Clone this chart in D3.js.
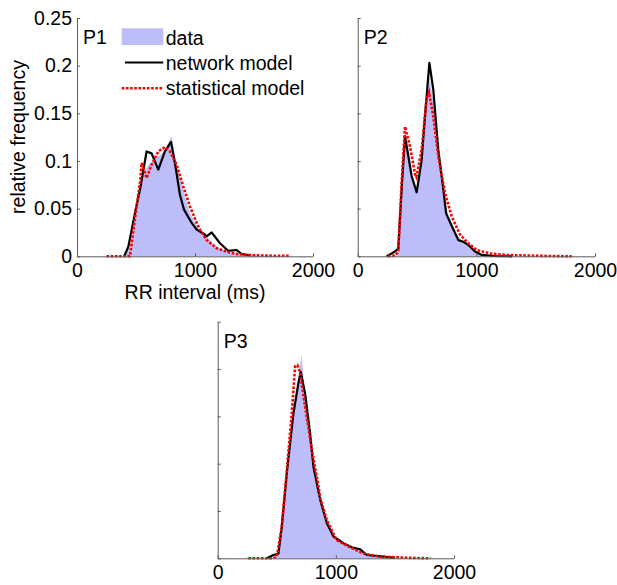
<!DOCTYPE html>
<html>
<head>
<meta charset="utf-8">
<script src="https://cdn.jsdelivr.net/npm/d3@7/dist/d3.min.js"></script>
<style>
  html, body { margin: 0; padding: 0; background: #fff; }
  svg text { font-family: "Liberation Sans", Arial, sans-serif; }
</style>
</head>
<body>
<div id="chart"></div>
<script>
// ── Data: [RR interval (ms), relative frequency] ──
const p1Data = [[400,0],[450,0.01],[480,0.03],[520,0.06],[560,0.085],[600,0.095],[640,0.1],[680,0.104],
  [720,0.108],[760,0.115],[800,0.126],[840,0.1],[880,0.078],[920,0.06],[960,0.045],[1000,0.035],
  [1040,0.028],[1080,0.022],[1120,0.018],[1160,0.013],[1200,0.009],[1250,0.006],[1300,0.004],
  [1400,0.002],[1500,0.001],[1800,0]];
const p1Network = [[400,0],[435,0.01],[497,0.049],[534,0.07],[590,0.11],[632,0.108],[689,0.091],
  [745,0.11],[797,0.12],[839,0.091],[873,0.064],[907,0.049],[972,0.035],[1014,0.028],[1070,0.024],
  [1099,0.021],[1141,0.025],[1212,0.0137],[1283,0.0056],[1353,0.0066],[1395,0.0024],[1466,0.001]];
const p1Statistical = [[250,0],[449,0],[477,0.027],[505,0.052],[534,0.078],[548,0.098],[590,0.082],
  [632,0.096],[689,0.11],[745,0.1145],[788,0.11],[844,0.096],[901,0.073],[958,0.052],[1014,0.035],
  [1042,0.028],[1099,0.017],[1184,0.0084],[1268,0.0048],[1353,0.0024],[1466,0.0013],[1600,0.0007],[1800,0.0005]];

const p2Data = [[340,0.005],[370,0.07],[400,0.12],[430,0.1],[460,0.08],[500,0.07],[540,0.1],[570,0.145],
  [605,0.188],[640,0.16],[680,0.11],[720,0.07],[760,0.045],[800,0.032],[850,0.02],[900,0.014],
  [950,0.009],[1000,0.005],[1050,0.002],[1100,0.001],[1200,0]];
const p2Network = [[244,0],[258,0.001],[314,0.005],[342,0.008],[370,0.07],[399,0.126],[427,0.105],
  [455,0.084],[497,0.067],[539,0.101],[567,0.147],[604,0.203],[637,0.175],[679,0.112],[722,0.07],
  [745,0.045],[792,0.032],[848,0.017],[890,0.0153],[932,0.012],[989,0.005],[1045,0.0014],[1150,0.0003],[1300,0]];
const p2Statistical = [[256,0],[320,0.001],[342,0.005],[370,0.077],[399,0.136],[441,0.115],[483,0.086],
  [495,0.083],[539,0.112],[581,0.165],[601,0.172],[637,0.147],[679,0.105],[736,0.066],[792,0.042],
  [861,0.023],[932,0.0137],[1003,0.0066],[1115,0.003],[1256,0.0014],[1530,0.0005],[1804,0]];

const p3Data = [[458,0],[480,0.002],[520,0.01],[560,0.05],[600,0.1],[640,0.15],[680,0.19],[710,0.215],
  [740,0.17],[780,0.13],[820,0.1],[860,0.073],[900,0.05],[950,0.033],[1000,0.022],[1050,0.017],
  [1100,0.013],[1150,0.01],[1200,0.008],[1250,0.005],[1300,0.003],[1400,0.0015],[1500,0.0005],[1600,0]];
const p3Network = [[415,0],[471,0.0035],[514,0.005],[542,0.033],[585,0.09],[641,0.153],[683,0.185],
  [703,0.197],[740,0.174],[782,0.132],[810,0.097],[867,0.062],[924,0.037],[980,0.023],[1064,0.016],
  [1135,0.0116],[1206,0.0095],[1262,0.0035],[1404,0.0017],[1500,0.0005]];
const p3Statistical = [[259,0],[470,0],[500,0.0017],[542,0.033],[585,0.093],[627,0.153],[655,0.203],
  [675,0.204],[697,0.196],[740,0.16],[796,0.115],[853,0.076],[867,0.064],[924,0.04],[1008,0.019],
  [1122,0.0116],[1234,0.005],[1376,0.0017],[1600,0.0006],[1800,0]];

const xTicks = [0, 1000, 2000];
const yTicks = [0, 0.05, 0.1, 0.15, 0.2, 0.25];
const yTickLabels = ['0', '0.05', '0.1', '0.15', '0.2', '0.25'];
const legendLabels = ['data', 'network model', 'statistical model'];

const FILL  = '#bdbdf9';
const RED   = '#ff0000';
const AXIS  = '#5a5a5a';
const FONT  = 19.5;

const panels = [
  { name: 'P1', data: p1Data, net: p1Network, stat: p1Statistical, left: 77,    right: 313, top: 18,    bottom: 256.3, yLabels: true },
  { name: 'P2', data: p2Data, net: p2Network, stat: p2Statistical, left: 357.7, right: 595, top: 18,    bottom: 256.3, yLabels: false },
  { name: 'P3', data: p3Data, net: p3Network, stat: p3Statistical, left: 217.7, right: 454, top: 321.7, bottom: 558.3, yLabels: false },
];

const svg = d3.select('#chart').append('svg')
  .attr('width', 617).attr('height', 585);

panels.forEach(p => {
  const x = d3.scaleLinear().domain([0, 2000]).range([p.left, p.right]);
  const y = d3.scaleLinear().domain([0, 0.25]).range([p.bottom, p.top]);
  const g = svg.append('g');

  const area = d3.area().x(d => x(d[0])).y0(y(0)).y1(d => y(d[1]));
  const line = d3.line().x(d => x(d[0])).y(d => y(d[1]));

  g.append('path').datum(p.data).attr('d', area).attr('fill', FILL);
  g.append('path').datum(p.net).attr('d', line)
    .attr('fill', 'none').attr('stroke', '#000').attr('stroke-width', 2.2)
    .attr('stroke-linejoin', 'round');
  g.append('path').datum(p.stat).attr('d', line)
    .attr('fill', 'none').attr('stroke', RED).attr('stroke-width', 2.6)
    .attr('stroke-dasharray', '2.6,1.6');

  // ── Axes (MATLAB style, inward ticks, no box) ──
  const xAxis = g.append('g').attr('transform', `translate(0,${p.bottom})`)
    .call(d3.axisBottom(x).tickValues(xTicks).tickFormat(d3.format('d'))
      .tickSizeInner(-3).tickSizeOuter(0).tickPadding(7));
  const yAxis = g.append('g').attr('transform', `translate(${p.left},0)`)
    .call(d3.axisLeft(y).tickValues(yTicks)
      .tickFormat((d, i) => p.yLabels ? yTickLabels[i] : '')
      .tickSizeInner(-3).tickSizeOuter(0).tickPadding(5));

  [xAxis, yAxis].forEach(a => {
    a.select('.domain').attr('stroke', AXIS);
    a.selectAll('.tick line').attr('stroke', AXIS);
    a.selectAll('.tick text').attr('fill', '#000').attr('font-size', FONT)
      .attr('font-family', '"Liberation Sans", Arial, sans-serif');
  });

  g.append('text').attr('x', p.left + 6).attr('y', p.top + 26)
    .attr('font-size', FONT).text(p.name);
});

// ── Axis titles on P1 ──
svg.append('text').attr('x', 195).attr('y', 299).attr('text-anchor', 'middle')
  .attr('font-size', FONT).text('RR interval (ms)');
svg.append('text').attr('transform', 'translate(25,137) rotate(-90)')
  .attr('text-anchor', 'middle').attr('font-size', FONT).text('relative frequency');

// ── Legend ──
const lg = svg.append('g');
lg.append('rect').attr('x', 121.7).attr('y', 28.3).attr('width', 41.6).attr('height', 16.7).attr('fill', FILL);
lg.append('line').attr('x1', 125).attr('x2', 163.3).attr('y1', 62.5).attr('y2', 62.5)
  .attr('stroke', '#000').attr('stroke-width', 2.2);
lg.append('line').attr('x1', 121.7).attr('x2', 163.3).attr('y1', 88.3).attr('y2', 88.3)
  .attr('stroke', RED).attr('stroke-width', 2.6).attr('stroke-dasharray', '2.6,1.6');
legendLabels.forEach((t, i) => {
  lg.append('text').attr('x', 165.7).attr('y', 45 + i * 25).attr('font-size', FONT).text(t);
});
</script>
</body>
</html>
